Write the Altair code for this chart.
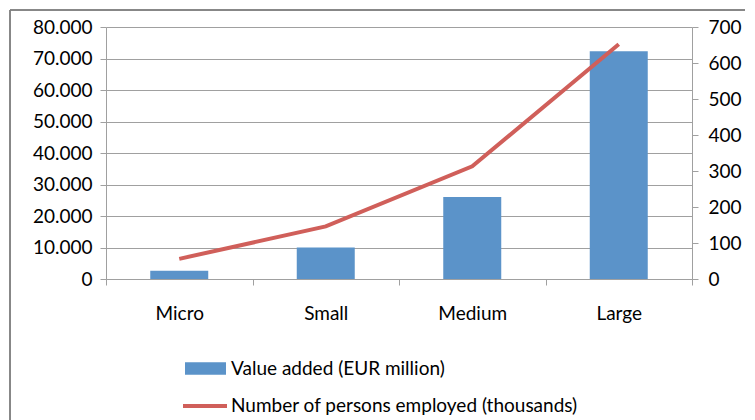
import altair as alt
import pandas as pd

categories = ["Micro", "Small", "Medium", "Large"]
value_added = [2600, 10000, 26000, 72300]
employed = [56, 146, 313, 652]

bar_name = "Value added (EUR million)"
line_name = "Number of persons employed (thousands)"

df = pd.DataFrame({
    "cat": categories,
    "va": value_added,
    "emp": employed,
    "bar_s": [bar_name] * 4,
    "line_s": [line_name] * 4,
})

FONT = "Lato"
FS = 19
GRID = "#A0A0A0"

x_enc = alt.X(
    "cat:N", sort=categories, title=None,
    scale=alt.Scale(paddingInner=0, paddingOuter=0),
    axis=alt.Axis(labelAngle=0, tickBand="extent", domainColor=GRID, tickColor=GRID,
                  tickSize=6, labelPadding=19, labelFontSize=FS, labelFont=FONT,
                  labelColor="#000000", grid=False),
)

bars = alt.Chart(df).mark_bar(width=58).encode(
    x=x_enc,
    y=alt.Y("va:Q", title=None,
            scale=alt.Scale(domain=[0, 80000]),
            axis=alt.Axis(values=list(range(0, 80001, 10000)), orient="left",
                          labelExpr="replace(format(datum.value, ','), ',', '.')",
                          grid=True, gridColor=GRID, domainColor=GRID, tickColor=GRID,
                          tickSize=6, labelPadding=8, labelFontSize=FS, labelFont=FONT,
                          labelColor="#000000")),
    color=alt.Color("bar_s:N", title=None,
                    scale=alt.Scale(domain=[bar_name], range=["#5B93C9"]),
                    legend=alt.Legend(orient="none", legendX=89, legendY=331,
                                      symbolType="M-2,-0.6H2V0.6H-2Z", symbolSize=420,
                                      symbolStrokeWidth=0, labelLimit=0,
                                      labelFontSize=FS, labelFont=FONT, labelColor="#000000",
                                      labelOffset=15)),
)

line = alt.Chart(df).mark_line(strokeWidth=4).encode(
    x=alt.X("cat:N", sort=categories),
    y=alt.Y("emp:Q", title=None,
            scale=alt.Scale(domain=[0, 700]),
            axis=alt.Axis(values=list(range(0, 701, 100)), orient="right", grid=False,
                          domainColor=GRID, tickColor=GRID, tickSize=6, labelPadding=10,
                          labelFontSize=FS, labelFont=FONT, labelColor="#000000")),
    stroke=alt.Stroke("line_s:N", title=None,
                      scale=alt.Scale(domain=[line_name], range=["#D05F5A"]),
                      legend=alt.Legend(orient="none", legendX=75, legendY=355,
                                        symbolType="stroke", symbolSize=1936,
                                        symbolStrokeWidth=4, labelLimit=0,
                                        labelFontSize=FS, labelFont=FONT, labelColor="#000000",
                                        labelOffset=2)),
)

frame = alt.Chart(df).mark_rect(fill=None, stroke="#808080", strokeWidth=1).encode(
    x=alt.value(-96), x2=alt.value(660), y=alt.value(-17), y2=alt.value(420)
)

chart = alt.layer(frame, bars, line).resolve_scale(
    y="independent", color="independent", stroke="independent"
).properties(
    width=586, height=252,
    autosize=alt.AutoSizeParams(type="none"),
    padding={"left": 98, "top": 19, "right": 53, "bottom": 141},
).configure_view(stroke=None)

chart.save("out.html", embed_options={"renderer": "svg", "actions": False})
